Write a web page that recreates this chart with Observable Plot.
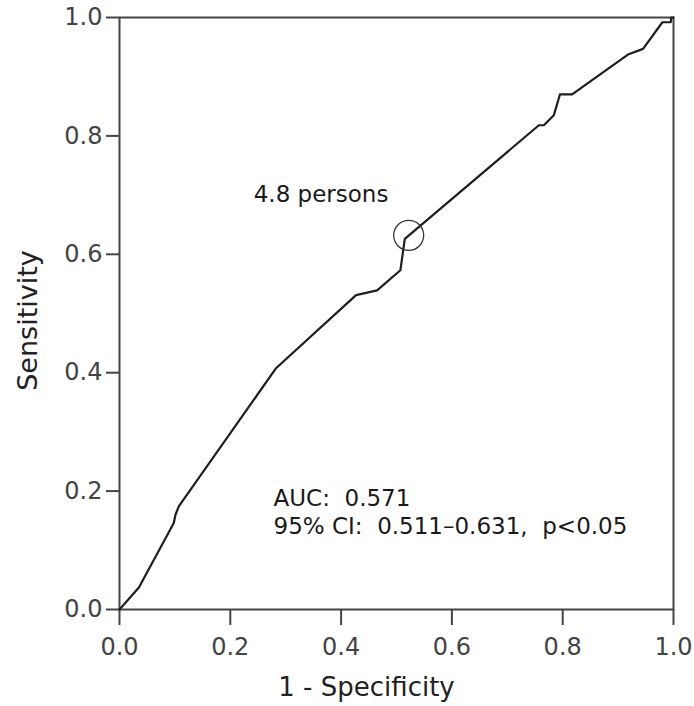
<!DOCTYPE html>
<html>
<head>
<meta charset="utf-8">
<script src="https://cdn.jsdelivr.net/npm/d3@7"></script>
<script src="https://cdn.jsdelivr.net/npm/@observablehq/plot@0.6"></script>
<style>
  html, body { margin: 0; padding: 0; background: #fff; }
</style>
</head>
<body>
<div id="chart"></div>
<script>
// ROC curve vertices: 1 - Specificity (fpr) and Sensitivity (tpr)
const fpr = [0, 0.035, 0.098, 0.101, 0.107, 0.282, 0.427, 0.465, 0.507, 0.515, 0.757, 0.766, 0.784, 0.795, 0.817, 0.919, 0.945, 0.980, 0.995, 0.996, 1];
const tpr = [0, 0.037, 0.146, 0.160, 0.174, 0.407, 0.531, 0.539, 0.573, 0.626, 0.818, 0.818, 0.835, 0.870, 0.870, 0.938, 0.947, 0.992, 0.992, 1.0, 1];

// Optimal cutoff point (circled)
const cutoffX = [0.522];
const cutoffY = [0.632];
const cutoffLabel = ["4.8 persons"];

// Tick values
const xTicks = [0, 0.2, 0.4, 0.6, 0.8, 1.0];
const yTicks = [0, 0.2, 0.4, 0.6, 0.8, 1.0];

// Texts
const xTitle = "1 - Specificity";
const yTitle = "Sensitivity";
const statsLines = ["AUC:\u00a0 0.571", "95% CI:\u00a0 0.511\u20130.631,\u00a0 p<0.05"];

const roc = fpr.map((x, i) => ({x, y: tpr[i]}));
const cutoff = cutoffX.map((x, i) => ({x, y: cutoffY[i], label: cutoffLabel[i]}));

const font = "'DejaVu Sans', Verdana, sans-serif";

const chart = Plot.plot({
  width: 694,
  height: 706,
  marginLeft: 119,
  marginRight: 21,
  marginTop: 17,
  marginBottom: 97,
  style: {fontFamily: font, fontSize: "24px", color: "#444", background: "#fff", strokeWidth: "2"},
  x: {domain: [0, 1], ticks: xTicks, tickFormat: d3.format(".1f"), tickSize: 16, tickPadding: 12, label: null},
  y: {domain: [0, 1], ticks: yTicks, tickFormat: d3.format(".1f"), tickSize: 13, tickPadding: 4, label: null},
  marks: [
    Plot.frame({stroke: "#444", strokeWidth: 2}),
    Plot.line(roc, {x: "x", y: "y", stroke: "#1e1e1e", strokeWidth: 2.2, curve: "linear"}),
    Plot.dot(cutoff, {x: "x", y: "y", r: 15, stroke: "#333", strokeWidth: 1.3, fill: "none"}),
    Plot.text(cutoff, {x: "x", y: "y", text: "label", textAnchor: "start", lineAnchor: "middle", dx: -155, dy: -41, fontSize: 23, fill: "#1a1a1a", fontFamily: font}),
    Plot.text([statsLines.join("\n")], {frameAnchor: "top-left", textAnchor: "start", lineAnchor: "top", dx: 154, dy: 468, lineHeight: 1.23, fontSize: 23, fill: "#1a1a1a", fontFamily: font}),
    Plot.text([xTitle], {frameAnchor: "bottom", textAnchor: "middle", lineAnchor: "middle", dx: -30, dy: 78, fontSize: 26, fill: "#222", fontFamily: font}),
    Plot.text([yTitle], {frameAnchor: "left", textAnchor: "middle", rotate: -90, lineAnchor: "middle", dx: -91, dy: 7, fontSize: 27, fill: "#222", fontFamily: font})
  ]
});
document.getElementById("chart").appendChild(chart);
</script>
</body>
</html>
